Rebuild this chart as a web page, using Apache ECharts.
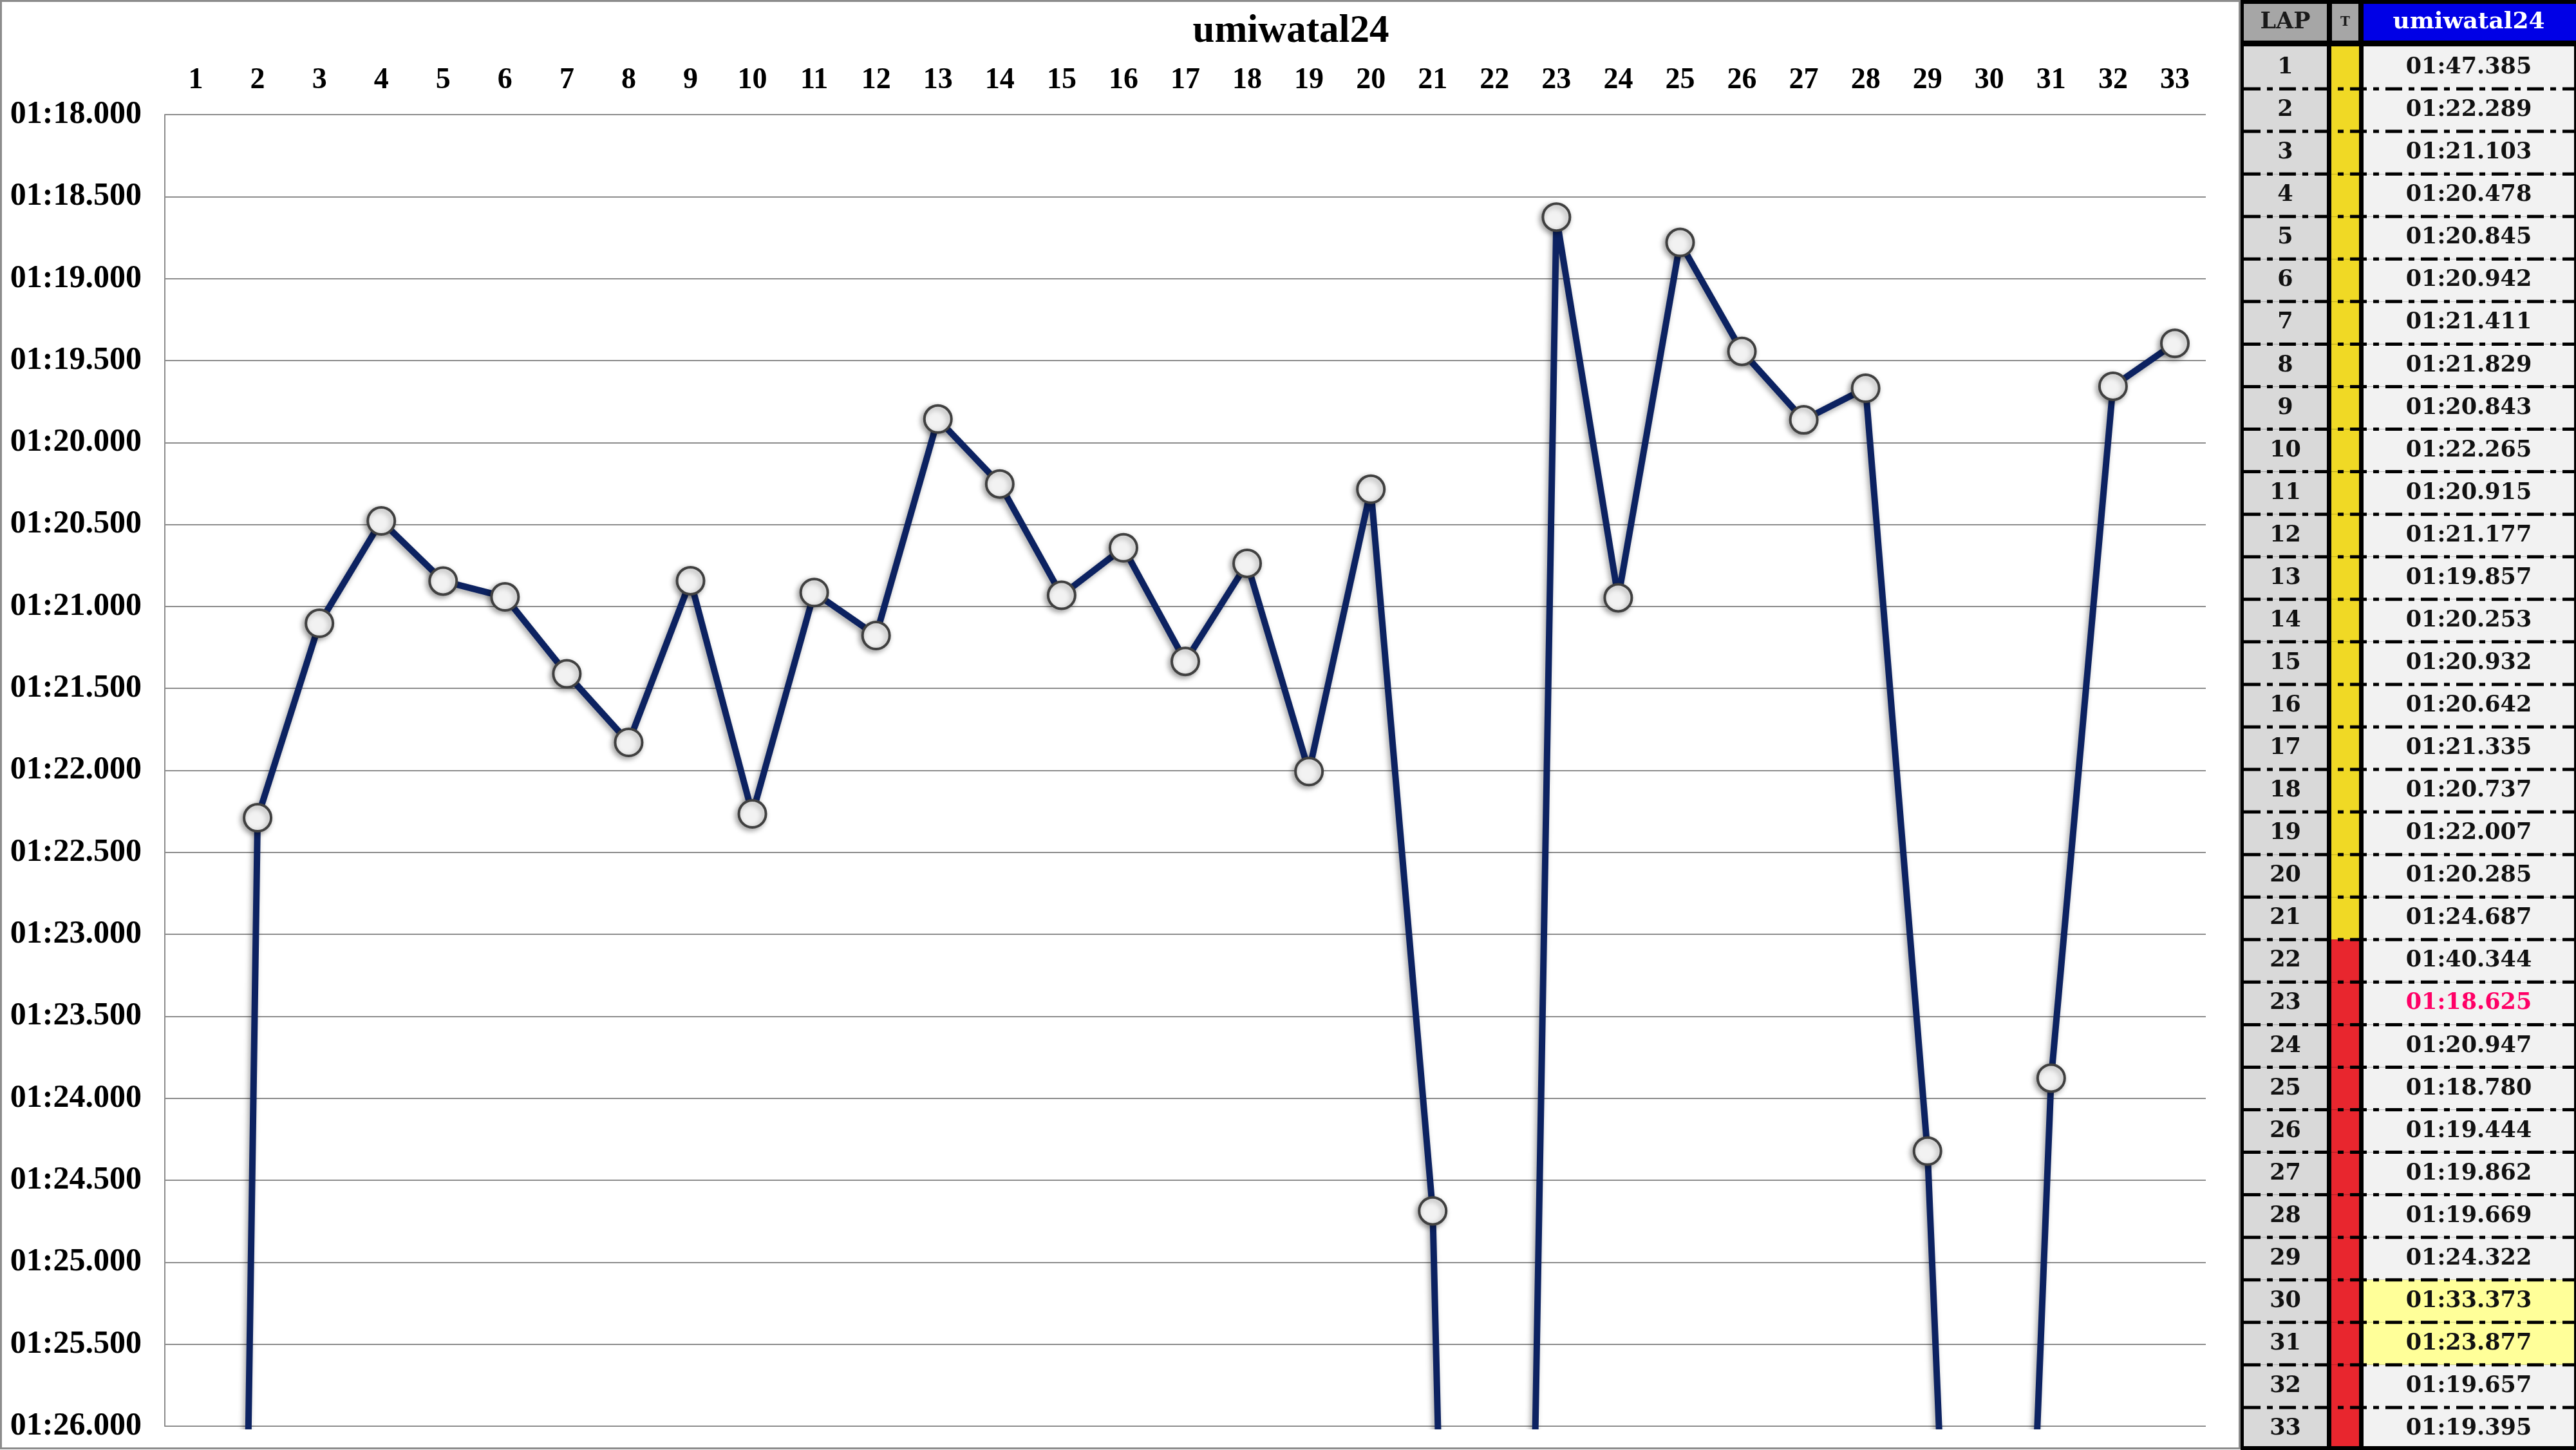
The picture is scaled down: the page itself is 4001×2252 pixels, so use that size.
<!DOCTYPE html>
<html><head><meta charset="utf-8">
<script src="https://cdn.jsdelivr.net/npm/echarts@6/dist/echarts.min.js"></script>
<style>html,body{margin:0;padding:0;background:#fff}#c{width:4001px;height:2252px}</style>
</head><body><div id="c"></div>
<script>
const chartTitle = 'umiwatal24';
const laps = [1, 2, 3, 4, 5, 6, 7, 8, 9, 10, 11, 12, 13, 14, 15, 16, 17, 18, 19, 20, 21, 22, 23, 24, 25, 26, 27, 28, 29, 30, 31, 32, 33];
// lap times in seconds (01:22.289 -> 82.289)
const lapSeconds = [107.385, 82.289, 81.103, 80.478, 80.845, 80.942, 81.411, 81.829, 80.843, 82.265,
  80.915, 81.177, 79.857, 80.253, 80.932, 80.642, 81.335, 80.737, 82.007, 80.285,
  84.687, 100.344, 78.625, 80.947, 78.780, 79.444, 79.862, 79.669, 84.322, 93.373,
  83.877, 79.657, 79.395];
// T column: stint per lap
const stintKeys = ['A','A','A','A','A','A','A','A','A','A','A','A','A','A','A','A','A','A','A','A','A',
  'B','B','B','B','B','B','B','B','B','B','B','B'];
const highlightedLaps = [30, 31];
const yMin = 78, yMax = 86, yStep = 0.5;

const stintColor = {A: '#f0d925', B: '#e8262e'};
function fmtTime(v) {
  const m = Math.floor(v / 60);
  let s = (v - m * 60).toFixed(3);
  if (s.length < 6) s = '0' + s;
  return (m < 10 ? '0' + m : '' + m) + ':' + s;
}
const bestLap = laps[lapSeconds.indexOf(Math.min.apply(null, lapSeconds))];

const axisFont = 'Liberation Serif';
const tableFont = 'DejaVu Serif';

// ---- table graphics ----
const T = {x0: 3480, left: 3485, lapW: 129, tX: 3622, tW: 41, nX: 3671, nW: 327, headTop: 6, headH: 57, bodyTop: 72, rowH: 66.06};
const g = [];
// outer frame of chart area
g.push({type: 'rect', z: 1, shape: {x: 1.5, y: 1.5, width: 3477, height: 2248}, style: {fill: 'none', stroke: '#8c8c8c', lineWidth: 3}});
// table black background
g.push({type: 'rect', z: 10, shape: {x: T.x0, y: 0, width: 4001 - T.x0, height: 2252}, style: {fill: '#000'}});
// header
g.push({type: 'rect', z: 11, shape: {x: T.left, y: T.headTop, width: T.lapW, height: T.headH}, style: {fill: '#a6a6a6'}});
g.push({type: 'rect', z: 11, shape: {x: T.tX, y: T.headTop, width: T.tW, height: T.headH}, style: {fill: '#a6a6a6'}});
g.push({type: 'rect', z: 11, shape: {x: T.nX, y: T.headTop, width: 4001 - T.nX, height: T.headH}, style: {fill: '#0000e6'}});
const hy = T.headTop + T.headH / 2;
g.push({type: 'text', z: 13, style: {text: 'LAP', x: T.left + T.lapW / 2, y: hy, textAlign: 'center', textVerticalAlign: 'middle', fill: '#1a1a1a', font: 'bold 35px "' + tableFont + '"'}});
g.push({type: 'text', z: 13, style: {text: 'T', x: T.tX + T.tW / 2, y: hy, textAlign: 'center', textVerticalAlign: 'middle', fill: '#1a1a1a', font: 'bold 20px "' + tableFont + '"'}});
g.push({type: 'text', z: 13, style: {text: chartTitle, x: T.nX + T.nW / 2, y: hy, textAlign: 'center', textVerticalAlign: 'middle', fill: '#ffffff', font: 'bold 36px "' + tableFont + '"'}});
laps.forEach(function (lap, i) {
  const top = T.bodyTop + i * T.rowH;
  const h = Math.min(T.rowH, 2246 - top);
  g.push({type: 'rect', z: 11, shape: {x: T.left, y: top, width: T.lapW, height: h}, style: {fill: '#d9d9d9'}});
  g.push({type: 'rect', z: 11, shape: {x: T.tX - 1, y: top, width: T.tW + 2, height: h}, style: {fill: stintColor[stintKeys[i]]}});
  const hl = highlightedLaps.indexOf(lap) >= 0;
  g.push({type: 'rect', z: 11, shape: {x: T.nX, y: top, width: T.nW, height: h}, style: {fill: hl ? '#ffff99' : '#f2f2f2'}});
  const cy = top + T.rowH / 2;
  g.push({type: 'text', z: 13, style: {text: String(lap), x: T.left + T.lapW / 2, y: cy, textAlign: 'center', textVerticalAlign: 'middle', fill: '#111', font: 'bold 35px "' + tableFont + '"'}});
  g.push({type: 'text', z: 13, style: {text: fmtTime(lapSeconds[i]), x: T.nX + T.nW / 2, y: cy, textAlign: 'center', textVerticalAlign: 'middle', fill: lap === bestLap ? '#ff0066' : '#111', font: 'bold 35px "' + tableFont + '"'}});
  if (i > 0) {
    g.push({type: 'line', z: 12, shape: {x1: T.left, y1: top, x2: 3998, y2: top}, style: {stroke: '#000', lineWidth: 5, lineDash: [26, 10, 9, 10]}});
  }
});

const chart = echarts.init(document.getElementById('c'), null, {renderer: 'canvas'});
chart.setOption({
  backgroundColor: '#ffffff',
  animation: false,
  title: {
    text: chartTitle, left: 2000, textAlign: 'center', top: 14,
    textStyle: {fontFamily: axisFont, fontWeight: 'bold', fontSize: 61, color: '#000'}
  },
  grid: {left: 256, right: 575, top: 178, bottom: 37, containLabel: false, outerBoundsMode: 'none'},
  xAxis: {
    type: 'category', position: 'top', boundaryGap: true,
    data: laps.map(String),
    axisLine: {show: false}, axisTick: {show: false},
    axisLabel: {interval: 0, margin: 30, fontFamily: axisFont, fontWeight: 'bold', fontSize: 46, color: '#000'},
    splitLine: {show: false}
  },
  yAxis: {
    type: 'value', inverse: true, min: yMin, max: yMax, interval: yStep,
    axisLine: {show: true, lineStyle: {color: '#8c8c8c', width: 2}},
    axisTick: {show: false},
    axisLabel: {margin: 36, fontFamily: axisFont, fontWeight: 'bold', fontSize: 50, color: '#000', formatter: function (v) { return fmtTime(v); }},
    splitLine: {show: true, lineStyle: {color: '#8c8c8c', width: 2}}
  },
  series: [{
    type: 'line', data: lapSeconds, clip: true,
    symbol: 'circle', symbolSize: 42, showAllSymbol: true,
    lineStyle: {color: '#0c2261', width: 10, shadowColor: 'rgba(0,0,0,0.35)', shadowBlur: 8, shadowOffsetX: -3, shadowOffsetY: 4},
    itemStyle: {color: '#f2f2f2', borderColor: '#404040', borderWidth: 4, shadowColor: 'rgba(0,0,0,0.35)', shadowBlur: 8, shadowOffsetX: -3, shadowOffsetY: 3},
    z: 5
  }],
  graphic: {elements: g}
});
</script>
</body></html>
